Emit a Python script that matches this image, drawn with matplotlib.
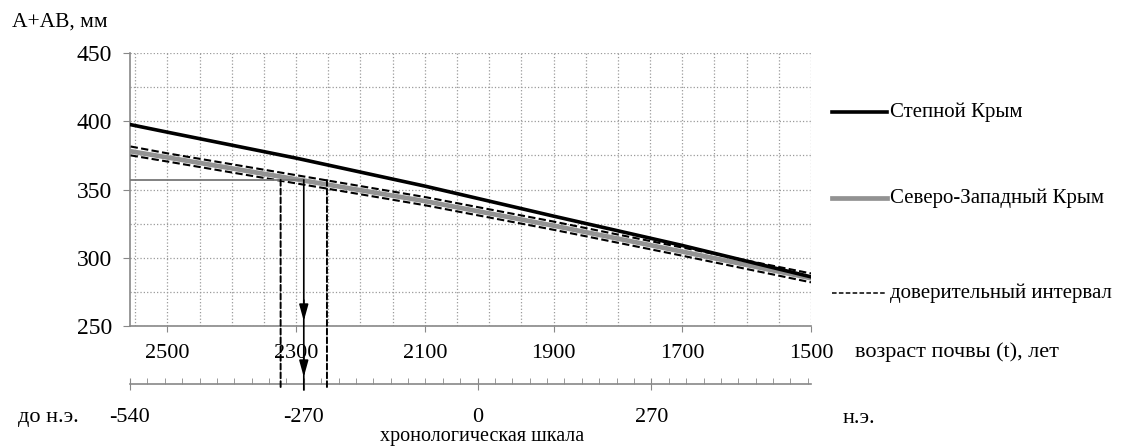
import matplotlib.pyplot as plt
from matplotlib.patches import ConnectionPatch
from matplotlib.lines import Line2D
from matplotlib.ticker import MultipleLocator, FixedLocator
from matplotlib.transforms import blended_transform_factory

plt.rcParams['font.family'] = ['Liberation Serif', 'DejaVu Serif']
plt.rcParams['axes.unicode_minus'] = False

# soil age (t), years, and A+AB thickness, mm
age = [2557, 2500, 2300, 2100, 1900, 1700, 1500]
steppe = [397.5, 392, 373, 352.5, 330.5, 309, 286]
northwest = [378, 373.5, 357.5, 341.5, 323.5, 304.5, 285]
ci_upper = [381.5, 376.5, 360.5, 344.5, 326.5, 307.5, 288.5]
ci_lower = [375, 370.5, 354.5, 338.5, 320.5, 301.5, 282]

# reading of one sample off the north-west curve
sample_value = 357
sample_age = 2288
sample_age_hi = 2324
sample_age_lo = 2252
ref_year = 2018

age_ticks = [2500, 2300, 2100, 1900, 1700, 1500]
chrono_ticks = [-540, -270, 0, 270]
y_ticks = [250, 300, 350, 400, 450]
labels = ['Степной Крым', 'Северо-Западный Крым', 'доверительный интервал']

W, H = 1123, 448
fig = plt.figure(figsize=(W / 100, H / 100), dpi=100)
ax = fig.add_axes([130 / W, 1 - 326 / H, 681 / W, 273 / H])
ax.set_xlim(2558, 1500)
ax.set_ylim(250, 450)

ax.plot(age, northwest, color='#929292', lw=3.4, zorder=3)
ax.plot(age, ci_upper, color='black', lw=1.5, ls=(0, (3.5, 1.6)), zorder=4)
ax.plot(age, ci_lower, color='black', lw=1.5, ls=(0, (3.5, 1.6)), zorder=4)
ax.plot(age, steppe, color='black', lw=2.6, zorder=5)

ax.xaxis.set_major_locator(FixedLocator(age_ticks))
ax.xaxis.set_minor_locator(MultipleLocator(50))
ax.yaxis.set_major_locator(FixedLocator(y_ticks))
ax.yaxis.set_minor_locator(MultipleLocator(25))
ax.grid(True, which='both', ls=':', color='#9a9a9a', lw=0.9)
ax.tick_params(axis='y', direction='out', length=5, color='#888888', pad=8, labelsize=17)
ax.tick_params(axis='x', direction='out', length=4, color='#888888', pad=9, labelsize=16)
ax.tick_params(which='minor', length=0)
for s in ['top', 'right']:
    ax.spines[s].set_visible(False)
for s in ['left', 'bottom']:
    ax.spines[s].set_color('#888888')
    ax.spines[s].set_linewidth(1.2)

# chronological scale
ax2 = fig.add_axes([130 / W, 1 - 384 / H, 681 / W, 0.0001])
ax2.set_xlim(ref_year - 2558, ref_year - 1500)
ax2.patch.set_visible(False)
for s in ['top', 'right', 'left']:
    ax2.spines[s].set_visible(False)
ax2.spines['bottom'].set_color('#888888')
ax2.spines['bottom'].set_linewidth(1.2)
ax2.set_yticks([])
ax2.xaxis.set_major_locator(FixedLocator(chrono_ticks))
ax2.xaxis.set_minor_locator(MultipleLocator(27))
ax2.tick_params(axis='x', which='major', direction='inout', length=9, color='#888888',
                pad=13, labelsize=16)
ax2.tick_params(axis='x', which='minor', direction='in', length=4, color='#888888')

T = blended_transform_factory(ax.transData, fig.transFigure)

# horizontal reading line
ax.plot([2558, sample_age], [sample_value, sample_value], color='#777777', lw=1.3, zorder=6)

# dashed interval bounds down to the chronological scale
for a in [sample_age_hi, sample_age_lo]:
    cp = ConnectionPatch(xyA=(a, sample_value), coordsA=ax.transData,
                         xyB=(a, 1 - 387 / H), coordsB=T, arrowstyle='-',
                         ls=(0, (3, 1.5)), lw=1.4, color='black', shrinkA=0, shrinkB=0, zorder=7)
    fig.add_artist(cp)

# solid arrow
cp = ConnectionPatch(xyA=(sample_age, sample_value), coordsA=ax.transData,
                     xyB=(sample_age, 1 - 390 / H), coordsB=T, arrowstyle='-',
                     lw=1.2, color='black', shrinkA=0, shrinkB=0, zorder=7)
fig.add_artist(cp)
for y0, y1 in [(300, 321), (355, 377)]:
    ah = ConnectionPatch(xyA=(sample_age, 1 - y0 / H), coordsA=T,
                         xyB=(sample_age, 1 - y1 / H), coordsB=T,
                         arrowstyle='-|>,head_length=0.9,head_width=0.25',
                         mutation_scale=11, lw=1.2, color='black',
                         shrinkA=0, shrinkB=0, zorder=8)
    fig.add_artist(ah)

# texts
fig.text(12 / W, 1 - 22 / H, 'A+AB, мм', fontsize=15.5, va='center', ha='left')
fig.text(855 / W, 1 - 352 / H, 'возраст почвы (t), лет', fontsize=16, va='center', ha='left')
fig.text(18 / W, 1 - 417 / H, 'до н.э.', fontsize=16, va='center', ha='left')
fig.text(843 / W, 1 - 418 / H, 'н.э.', fontsize=16, va='center', ha='left')
fig.text(482 / W, 1 - 436 / H, 'хронологическая шкала', fontsize=14.5, va='center', ha='center')

# legend
leg_y = [112, 198, 293]
leg_styles = [dict(color='black', lw=2.6),
              dict(color='#929292', lw=3.4),
              dict(color='black', lw=1.1, ls=(0, (3, 1.5)))]
for y, lab, st in zip(leg_y, labels, leg_styles):
    fig.add_artist(Line2D([832 / W, 887 / W], [1 - y / H, 1 - y / H],
                          transform=fig.transFigure, **st))
    fig.text(890 / W, 1 - y / H, lab, fontsize=15, va='center', ha='left')

fig.savefig('out.png', dpi=100)
